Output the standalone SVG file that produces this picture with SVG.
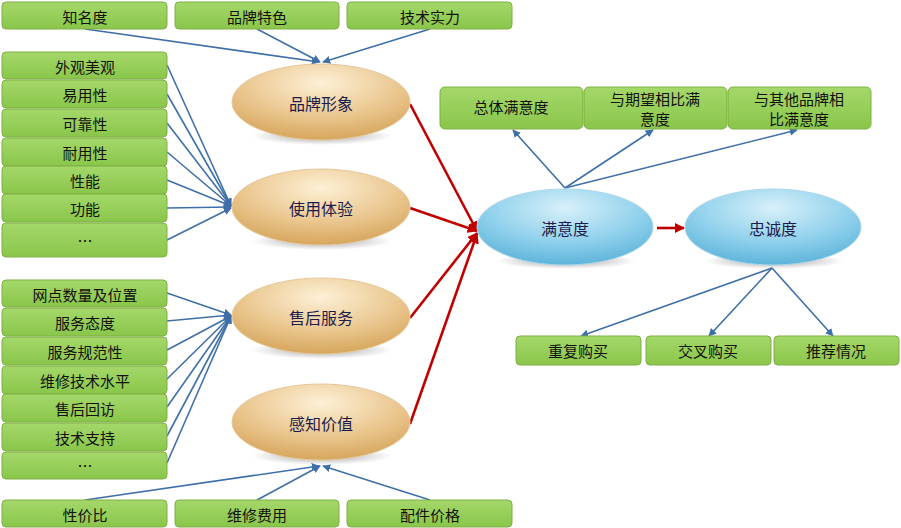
<svg xmlns="http://www.w3.org/2000/svg" width="901" height="528" viewBox="0 0 901 528">
<defs>
<linearGradient id="gG" x1="0" y1="0" x2="0" y2="1"><stop offset="0" stop-color="#a4d86a"/><stop offset="1" stop-color="#8ac64a"/></linearGradient>
<radialGradient id="gT" cx="0.5" cy="0.25" r="0.75"><stop offset="0" stop-color="#fdf0d6"/><stop offset="0.6" stop-color="#eac68e"/><stop offset="1" stop-color="#d6a65c"/></radialGradient>
<radialGradient id="gB" cx="0.5" cy="0.25" r="0.75"><stop offset="0" stop-color="#d8f0fa"/><stop offset="0.6" stop-color="#8fd0ec"/><stop offset="1" stop-color="#5eb4da"/></radialGradient>
<radialGradient id="gS" cx="0.5" cy="0.5" r="0.5"><stop offset="0" stop-color="#555" stop-opacity="0.55"/><stop offset="1" stop-color="#555" stop-opacity="0"/></radialGradient>
<marker id="aB" viewBox="0 0 10 10" refX="9" refY="5" markerWidth="5" markerHeight="5" orient="auto"><path d="M0,0 L10,5 L0,10 z" fill="#3f6fa8"/></marker>
<marker id="aR" viewBox="0 0 10 10" refX="9" refY="5" markerWidth="4" markerHeight="4" orient="auto"><path d="M0,0 L10,5 L0,10 z" fill="#c00000"/></marker>
</defs>
<style>
.box{fill:url(#gG);stroke:#7fae45;stroke-width:1}
.bt{font-family:"Noto Sans CJK SC","Noto Sans",sans-serif;font-size:15px;fill:#111;text-anchor:middle;dominant-baseline:central}
.et{font-family:"Noto Sans CJK SC","Noto Sans",sans-serif;font-size:16px;fill:#1c1c4a;text-anchor:middle;dominant-baseline:central}
.tan{fill:url(#gT);stroke:#e6c89a;stroke-width:1}
.blue{fill:url(#gB);stroke:#a9d6ea;stroke-width:1}
.shd{fill:url(#gS)}
.lb{stroke:#3f6fa8;stroke-width:1.6;fill:none;marker-end:url(#aB)}
.lr{stroke:#c00000;stroke-width:2.6;fill:none;marker-end:url(#aR)}
</style>
<rect width="901" height="528" fill="#fff"/>
<g id="connectors">
<line class="lb" x1="85" y1="29" x2="319" y2="62"/>
<line class="lb" x1="257" y1="29" x2="320" y2="62"/>
<line class="lb" x1="430" y1="29" x2="323" y2="62"/>
<line class="lb" x1="167" y1="65" x2="231" y2="206"/>
<line class="lb" x1="167" y1="94" x2="231" y2="206"/>
<line class="lb" x1="167" y1="123" x2="231" y2="206"/>
<line class="lb" x1="167" y1="152" x2="231" y2="206"/>
<line class="lb" x1="167" y1="180" x2="231" y2="206"/>
<line class="lb" x1="167" y1="208" x2="231" y2="207"/>
<line class="lb" x1="167" y1="240" x2="231" y2="208"/>
<line class="lb" x1="167" y1="293" x2="231" y2="315"/>
<line class="lb" x1="167" y1="321" x2="231" y2="315"/>
<line class="lb" x1="167" y1="350" x2="231" y2="316"/>
<line class="lb" x1="167" y1="379" x2="231" y2="316"/>
<line class="lb" x1="167" y1="407" x2="231" y2="316"/>
<line class="lb" x1="167" y1="436" x2="231" y2="316"/>
<line class="lb" x1="167" y1="463" x2="231" y2="316"/>
<line class="lb" x1="85" y1="500" x2="319" y2="466"/>
<line class="lb" x1="257" y1="500" x2="320" y2="466"/>
<line class="lb" x1="430" y1="500" x2="323" y2="466"/>
<line class="lr" x1="410" y1="104" x2="477" y2="231"/>
<line class="lr" x1="410" y1="208" x2="477" y2="231"/>
<line class="lr" x1="410" y1="318" x2="477" y2="233"/>
<line class="lr" x1="410" y1="424" x2="477" y2="234"/>
<line class="lr" x1="657" y1="228" x2="684" y2="228"/>
<line class="lb" x1="565" y1="188" x2="513" y2="130"/>
<line class="lb" x1="565" y1="188" x2="653" y2="130"/>
<line class="lb" x1="565" y1="188" x2="797" y2="130"/>
<line class="lb" x1="772" y1="268" x2="581" y2="336"/>
<line class="lb" x1="772" y1="268" x2="709" y2="336"/>
<line class="lb" x1="772" y1="268" x2="833" y2="336"/>
</g>
<g id="n-zmd"><rect class="box" x="2" y="2" width="165" height="27" rx="4"/><text class="bt" x="85" y="16">知名度</text></g>
<g id="n-ppts"><rect class="box" x="175" y="2" width="164" height="27" rx="4"/><text class="bt" x="257" y="16">品牌特色</text></g>
<g id="n-jssl"><rect class="box" x="347" y="2" width="165" height="27" rx="4"/><text class="bt" x="430" y="16">技术实力</text></g>
<g id="n-wgmg"><rect class="box" x="2" y="52" width="165" height="27" rx="4"/><text class="bt" x="85" y="66">外观美观</text></g>
<g id="n-yyx"><rect class="box" x="2" y="80" width="165" height="28" rx="4"/><text class="bt" x="85" y="94">易用性</text></g>
<g id="n-kkx"><rect class="box" x="2" y="109" width="165" height="28" rx="4"/><text class="bt" x="85" y="123">可靠性</text></g>
<g id="n-nyx"><rect class="box" x="2" y="138" width="165" height="28" rx="4"/><text class="bt" x="85" y="152">耐用性</text></g>
<g id="n-xn"><rect class="box" x="2" y="166" width="165" height="28" rx="4"/><text class="bt" x="85" y="180">性能</text></g>
<g id="n-gn"><rect class="box" x="2" y="194" width="165" height="28" rx="4"/><text class="bt" x="85" y="208">功能</text></g>
<g id="n-etc1"><rect class="box" x="2" y="223" width="165" height="34" rx="4"/><text class="bt" x="85" y="240">…</text></g>
<g id="n-wd"><rect class="box" x="2" y="280" width="165" height="27" rx="4"/><text class="bt" x="85" y="294">网点数量及位置</text></g>
<g id="n-fwtd"><rect class="box" x="2" y="308" width="165" height="28" rx="4"/><text class="bt" x="85" y="322">服务态度</text></g>
<g id="n-fwgf"><rect class="box" x="2" y="337" width="165" height="28" rx="4"/><text class="bt" x="85" y="351">服务规范性</text></g>
<g id="n-wxjs"><rect class="box" x="2" y="366" width="165" height="28" rx="4"/><text class="bt" x="85" y="380">维修技术水平</text></g>
<g id="n-shhf"><rect class="box" x="2" y="394" width="165" height="28" rx="4"/><text class="bt" x="85" y="408">售后回访</text></g>
<g id="n-jszc"><rect class="box" x="2" y="423" width="165" height="28" rx="4"/><text class="bt" x="85" y="437">技术支持</text></g>
<g id="n-etc2"><rect class="box" x="2" y="452" width="165" height="27" rx="4"/><text class="bt" x="85" y="465">…</text></g>
<g id="n-xjb"><rect class="box" x="2" y="500" width="165" height="27" rx="4"/><text class="bt" x="85" y="514">性价比</text></g>
<g id="n-wxfy"><rect class="box" x="175" y="500" width="164" height="27" rx="4"/><text class="bt" x="257" y="514">维修费用</text></g>
<g id="n-pjjg"><rect class="box" x="347" y="500" width="165" height="27" rx="4"/><text class="bt" x="430" y="514">配件价格</text></g>
<g id="n-ppxx"><ellipse class="shd" cx="322" cy="136" rx="70" ry="9"/><ellipse class="tan" cx="321" cy="102" rx="89" ry="38"/><text class="et" x="321" y="103">品牌形象</text></g>
<g id="n-syty"><ellipse class="shd" cx="322" cy="241" rx="70" ry="9"/><ellipse class="tan" cx="321" cy="207" rx="89" ry="38"/><text class="et" x="321" y="208">使用体验</text></g>
<g id="n-shfw"><ellipse class="shd" cx="322" cy="350" rx="70" ry="9"/><ellipse class="tan" cx="321" cy="316" rx="89" ry="38"/><text class="et" x="321" y="317">售后服务</text></g>
<g id="n-gzjz"><ellipse class="shd" cx="322" cy="456" rx="70" ry="9"/><ellipse class="tan" cx="321" cy="422" rx="89" ry="38"/><text class="et" x="321" y="423">感知价值</text></g>
<g id="n-myd"><ellipse class="shd" cx="566" cy="261" rx="70" ry="8"/><ellipse class="blue" cx="565" cy="227" rx="88" ry="38"/><text class="et" x="565" y="228">满意度</text></g>
<g id="n-zcd"><ellipse class="shd" cx="774" cy="261" rx="70" ry="8"/><ellipse class="blue" cx="773" cy="227" rx="88" ry="38"/><text class="et" x="773" y="228">忠诚度</text></g>
<g id="n-ztmyd"><rect class="box" x="440" y="87" width="143" height="42" rx="5"/><text class="bt" x="511" y="106">总体满意度</text></g>
<g id="n-yqw"><rect class="box" x="584" y="87" width="143" height="42" rx="5"/><text class="bt" x="655" y="98">与期望相比满</text><text class="bt" x="655" y="118">意度</text></g>
<g id="n-yqt"><rect class="box" x="728" y="87" width="143" height="42" rx="5"/><text class="bt" x="799" y="98">与其他品牌相</text><text class="bt" x="799" y="118">比满意度</text></g>
<g id="n-cfgm"><rect class="box" x="516" y="336" width="125" height="29" rx="4"/><text class="bt" x="578" y="350">重复购买</text></g>
<g id="n-jcgm"><rect class="box" x="646" y="336" width="125" height="29" rx="4"/><text class="bt" x="708" y="350">交叉购买</text></g>
<g id="n-tjqk"><rect class="box" x="774" y="336" width="125" height="29" rx="4"/><text class="bt" x="836" y="350">推荐情况</text></g>
</svg>
